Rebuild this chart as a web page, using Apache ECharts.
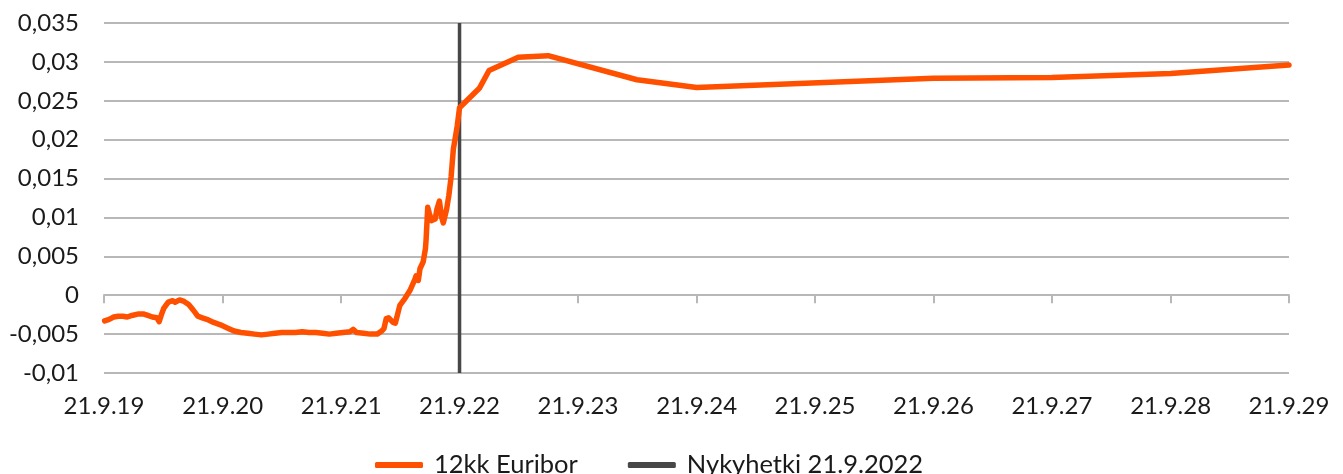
<!DOCTYPE html>
<html>
<head>
<meta charset="utf-8">
<script src="https://cdn.jsdelivr.net/npm/echarts@6/dist/echarts.min.js"></script>
<style>
html,body{margin:0;padding:0;background:#fff;}
#chart{width:1343px;height:474px;}
</style>
</head>
<body>
<div id="chart"></div>
<script>
// ---------- data ----------
const seriesNames = ['12kk Euribor', 'Nykyhetki 21.9.2022'];

const euriborDates = [
  '2019-09-23','2019-10-07','2019-10-21','2019-11-04','2019-11-18','2019-12-02','2019-12-16',
  '2020-01-06','2020-01-20','2020-02-03','2020-02-17','2020-03-02','2020-03-09','2020-03-16',
  '2020-03-23','2020-04-06','2020-04-20','2020-04-27','2020-05-11','2020-05-25','2020-06-08',
  '2020-06-22','2020-07-06','2020-07-20','2020-08-03','2020-08-24','2020-09-14','2020-10-05',
  '2020-10-26','2020-11-16','2020-12-07','2020-12-28','2021-01-18','2021-02-08','2021-03-01',
  '2021-03-22','2021-04-12','2021-05-03','2021-05-24','2021-06-14','2021-07-05','2021-07-26',
  '2021-08-16','2021-09-06','2021-09-27','2021-10-18','2021-10-28','2021-11-08','2021-11-29',
  '2021-12-20','2022-01-10','2022-01-24','2022-01-31','2022-02-07','2022-02-14','2022-02-28',
  '2022-03-07','2022-03-21','2022-04-06','2022-04-21','2022-05-06','2022-05-10','2022-05-17',
  '2022-05-22','2022-06-01','2022-06-08','2022-06-10','2022-06-15','2022-06-20','2022-06-27',
  '2022-07-08','2022-07-13','2022-07-21','2022-07-28','2022-08-02','2022-08-12','2022-08-19',
  '2022-08-26','2022-09-02','2022-09-09','2022-09-14','2022-09-21',
  '2022-11-21','2022-12-21','2023-03-21','2023-06-21','2024-03-21','2024-09-21',
  '2026-09-21','2027-09-21','2028-09-21','2029-09-21'
];
const euriborValues = [
  -0.0033,-0.0031,-0.0028,-0.0027,-0.0027,-0.0028,-0.0026,
  -0.0024,-0.0024,-0.0026,-0.0028,-0.0029,-0.0034,-0.0025,
  -0.0017,-0.0009,-0.0007,-0.0009,-0.0006,-0.0008,-0.0012,
  -0.0019,-0.0027,-0.0029,-0.0031,-0.0035,-0.0038,-0.0042,
  -0.0046,-0.0048,-0.0049,-0.0050,-0.0051,-0.0050,-0.0049,
  -0.0048,-0.0048,-0.0048,-0.0047,-0.0048,-0.0048,-0.0049,
  -0.0050,-0.0049,-0.0048,-0.0047,-0.0044,-0.0048,-0.0049,
  -0.0050,-0.0050,-0.0046,-0.0043,-0.0030,-0.0029,-0.0035,
  -0.0036,-0.0013,-0.0004,0.0006,0.0020,0.0025,0.0019,
  0.0034,0.0043,0.0060,0.0072,0.0113,0.0105,0.0096,
  0.0098,0.0110,0.0121,0.0100,0.0093,0.0110,0.0128,
  0.0152,0.0188,0.0205,0.0218,0.0241,
  0.0266,0.0289,0.0306,0.0308,0.0277,0.0267,
  0.0279,0.0280,0.0285,0.0296
];

const nowLineDates = ['2022-09-21','2022-09-21'];
const nowLineValues = [-0.01, 0.035];

const xTickDates = ['2019-09-21','2020-09-21','2021-09-21','2022-09-21','2023-09-21','2024-09-21',
                    '2025-09-21','2026-09-21','2027-09-21','2028-09-21','2029-09-21'];
const xTickLabels = ['21.9.19','21.9.20','21.9.21','21.9.22','21.9.23','21.9.24',
                     '21.9.25','21.9.26','21.9.27','21.9.28','21.9.29'];

const yMin = -0.01, yMax = 0.035, yStep = 0.005;

// ---------- helpers ----------
function ts(s){ const p = s.split('-').map(Number); return Date.UTC(p[0], p[1]-1, p[2]); }
const xTickTs = xTickDates.map(ts);
const euriborData = euriborDates.map((d,i)=>[ts(d), euriborValues[i]]);
const nowData = nowLineDates.map((d,i)=>[ts(d), nowLineValues[i]]);

function xLabel(v){
  let best = -1, bd = Infinity;
  xTickTs.forEach((t,i)=>{ const d = Math.abs(t - v); if (d < bd) { bd = d; best = i; } });
  return (best >= 0 && bd < 86400000 * 2) ? xTickLabels[best] : '';
}

const FONT = 'Lato';
const TXT = '#1a1a1a';
const GRID = '#b8b8b8';
const xMin = xTickTs[0], xMax = xTickTs[xTickTs.length-1];

const chart = echarts.init(document.getElementById('chart'), null, {renderer:'canvas'});
chart.setOption({
  animation: false,
  backgroundColor: '#ffffff',
  grid: { left: 104, right: 54, top: 23, bottom: 101, containLabel: false },
  xAxis: [
    {
      type: 'value', position: 'bottom',
      min: xMin, max: xMax,
      axisLine: { show: false, onZero: false },
      axisTick: { show: false },
      axisLabel: {
        show: true,
        customValues: xTickTs,
        margin: 21,
        fontFamily: FONT, fontSize: 24, color: TXT,
        hideOverlap: false,
        showMinLabel: true, showMaxLabel: true,
        formatter: xLabel
      },
      splitLine: { show: false }
    },
    {
      type: 'value', position: 'bottom',
      min: xMin, max: xMax,
      axisLine: { show: true, onZero: true, lineStyle: { color: GRID, width: 2 } },
      axisTick: { show: true, length: 8, customValues: xTickTs, lineStyle: { color: GRID, width: 2 } },
      axisLabel: { show: false },
      splitLine: { show: false }
    }
  ],
  yAxis: {
    type: 'value',
    min: yMin, max: yMax, interval: yStep,
    axisLine: { show: false },
    axisTick: { show: false },
    axisLabel: {
      margin: 25, fontFamily: FONT, fontSize: 24, color: TXT,
      formatter: function(v){ return String(+v.toFixed(3)).replace('.', ','); }
    },
    splitLine: { show: true, lineStyle: { color: GRID, width: 2 } }
  },
  legend: {
    data: seriesNames,
    left: 375, top: 452,
    padding: 0,
    icon: 'roundRect',
    itemWidth: 48, itemHeight: 6,
    itemGap: 50,
    textStyle: { fontFamily: FONT, fontSize: 25.5, color: TXT, padding: [0,0,0,6] }
  },
  series: [
    {
      name: seriesNames[1],
      type: 'line',
      xAxisIndex: 0,
      data: nowData,
      showSymbol: false,
      color: '#474747',
      lineStyle: { color: '#474747', width: 3.5 },
      z: 2
    },
    {
      name: seriesNames[0],
      type: 'line',
      xAxisIndex: 0,
      data: euriborData,
      showSymbol: false,
      color: '#ff5000',
      lineStyle: { color: '#ff5000', width: 5.5, cap: 'round', join: 'round' },
      z: 3
    }
  ]
});
</script>
</body>
</html>
